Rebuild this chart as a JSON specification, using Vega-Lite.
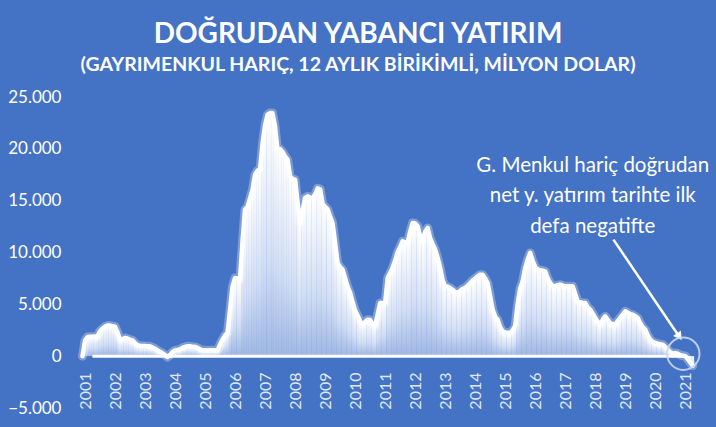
{
  "$schema": "https://vega.github.io/schema/vega-lite/v6.json",
  "width": 620,
  "height": 311,
  "autosize": {"type": "none"},
  "padding": {"left": 77, "top": 97, "right": 19, "bottom": 19},
  "background": "#4472C4",
  "config": {"view": {"stroke": null}},
  "title": {
    "text": "DOĞRUDAN YABANCI YATIRIM",
    "subtitle": "(GAYRIMENKUL HARIÇ, 12 AYLIK BİRİKİMLİ, MİLYON DOLAR)",
    "anchor": "middle",
    "dx": -29,
    "offset": 14,
    "font": "Lato",
    "fontSize": 28,
    "fontWeight": "bold",
    "color": "#ffffff",
    "subtitleFont": "Lato",
    "subtitleFontSize": 19.5,
    "subtitleFontWeight": "bold",
    "subtitleColor": "#ffffff",
    "subtitlePadding": 7
  },
  "datasets": {
    "fdi": [
      {"d":"2000-12","v":0},
      {"d":"2001-01","v":1500},{"d":"2001-02","v":1850},{"d":"2001-03","v":1880},{"d":"2001-04","v":1880},{"d":"2001-05","v":1900},{"d":"2001-06","v":1900},{"d":"2001-07","v":2400},{"d":"2001-08","v":2650},{"d":"2001-09","v":2850},{"d":"2001-10","v":2950},{"d":"2001-11","v":2950},{"d":"2001-12","v":2900},
      {"d":"2002-01","v":2850},{"d":"2002-02","v":2300},{"d":"2002-03","v":1600},{"d":"2002-04","v":1650},{"d":"2002-05","v":1750},{"d":"2002-06","v":1700},{"d":"2002-07","v":1600},{"d":"2002-08","v":1530},{"d":"2002-09","v":1250},{"d":"2002-10","v":1050},{"d":"2002-11","v":1000},{"d":"2002-12","v":980},
      {"d":"2003-01","v":970},{"d":"2003-02","v":960},{"d":"2003-03","v":950},{"d":"2003-04","v":850},{"d":"2003-05","v":720},{"d":"2003-06","v":560},{"d":"2003-07","v":420},{"d":"2003-08","v":280},{"d":"2003-09","v":120},{"d":"2003-10","v":-80},{"d":"2003-11","v":100},{"d":"2003-12","v":400},
      {"d":"2004-01","v":560},{"d":"2004-02","v":600},{"d":"2004-03","v":650},{"d":"2004-04","v":800},{"d":"2004-05","v":900},{"d":"2004-06","v":950},{"d":"2004-07","v":950},{"d":"2004-08","v":900},{"d":"2004-09","v":890},{"d":"2004-10","v":800},{"d":"2004-11","v":650},{"d":"2004-12","v":560},
      {"d":"2005-01","v":560},{"d":"2005-02","v":550},{"d":"2005-03","v":560},{"d":"2005-04","v":560},{"d":"2005-05","v":560},{"d":"2005-06","v":560},{"d":"2005-07","v":1100},{"d":"2005-08","v":1600},{"d":"2005-09","v":2000},{"d":"2005-10","v":2240},{"d":"2005-11","v":4500},{"d":"2005-12","v":6740},
      {"d":"2006-01","v":7540},{"d":"2006-02","v":7500},{"d":"2006-03","v":7380},{"d":"2006-04","v":11000},{"d":"2006-05","v":14140},{"d":"2006-06","v":14400},{"d":"2006-07","v":15200},{"d":"2006-08","v":16070},{"d":"2006-09","v":17500},{"d":"2006-10","v":17900},{"d":"2006-11","v":18000},{"d":"2006-12","v":20500},
      {"d":"2007-01","v":22300},{"d":"2007-02","v":23300},{"d":"2007-03","v":23450},{"d":"2007-04","v":23450},{"d":"2007-05","v":22180},{"d":"2007-06","v":19930},{"d":"2007-07","v":19990},{"d":"2007-08","v":19700},{"d":"2007-09","v":19280},{"d":"2007-10","v":18960},{"d":"2007-11","v":17350},{"d":"2007-12","v":17100},
      {"d":"2008-01","v":17030},{"d":"2008-02","v":14800},{"d":"2008-03","v":12850},{"d":"2008-04","v":14000},{"d":"2008-05","v":15270},{"d":"2008-06","v":15420},{"d":"2008-07","v":15300},{"d":"2008-08","v":15270},{"d":"2008-09","v":15600},{"d":"2008-10","v":16200},{"d":"2008-11","v":16100},{"d":"2008-12","v":14700},
      {"d":"2009-01","v":14400},{"d":"2009-02","v":14140},{"d":"2009-03","v":13500},{"d":"2009-04","v":12850},{"d":"2009-05","v":11000},{"d":"2009-06","v":9000},{"d":"2009-07","v":8600},{"d":"2009-08","v":8350},{"d":"2009-09","v":7500},{"d":"2009-10","v":6700},{"d":"2009-11","v":6100},{"d":"2009-12","v":5200},
      {"d":"2010-01","v":4400},{"d":"2010-02","v":3900},{"d":"2010-03","v":3400},{"d":"2010-04","v":3040},{"d":"2010-05","v":3300},{"d":"2010-06","v":3520},{"d":"2010-07","v":3500},{"d":"2010-08","v":3100},{"d":"2010-09","v":2940},{"d":"2010-10","v":4000},{"d":"2010-11","v":5130},{"d":"2010-12","v":5130},
      {"d":"2011-01","v":5130},{"d":"2011-02","v":7540},{"d":"2011-03","v":8000},{"d":"2011-04","v":8510},{"d":"2011-05","v":9200},{"d":"2011-06","v":10000},{"d":"2011-07","v":10500},{"d":"2011-08","v":11080},{"d":"2011-09","v":11000},{"d":"2011-10","v":10920},{"d":"2011-11","v":12000},{"d":"2011-12","v":12850},
      {"d":"2012-01","v":12800},{"d":"2012-02","v":12530},{"d":"2012-03","v":11600},{"d":"2012-04","v":11080},{"d":"2012-05","v":12000},{"d":"2012-06","v":12370},{"d":"2012-07","v":11400},{"d":"2012-08","v":10800},{"d":"2012-09","v":10280},{"d":"2012-10","v":9480},{"d":"2012-11","v":8500},{"d":"2012-12","v":7300},
      {"d":"2013-01","v":6740},{"d":"2013-02","v":6700},{"d":"2013-03","v":6580},{"d":"2013-04","v":6400},{"d":"2013-05","v":6200},{"d":"2013-06","v":6100},{"d":"2013-07","v":6300},{"d":"2013-08","v":6500},{"d":"2013-09","v":6580},{"d":"2013-10","v":6800},{"d":"2013-11","v":7060},{"d":"2013-12","v":7300},
      {"d":"2014-01","v":7500},{"d":"2014-02","v":7700},{"d":"2014-03","v":7860},{"d":"2014-04","v":7860},{"d":"2014-05","v":7500},{"d":"2014-06","v":7060},{"d":"2014-07","v":5800},{"d":"2014-08","v":4490},{"d":"2014-09","v":3800},{"d":"2014-10","v":3520},{"d":"2014-11","v":2800},{"d":"2014-12","v":2400},
      {"d":"2015-01","v":2300},{"d":"2015-02","v":2240},{"d":"2015-03","v":2240},{"d":"2015-04","v":2500},{"d":"2015-05","v":2880},{"d":"2015-06","v":5000},{"d":"2015-07","v":6500},{"d":"2015-08","v":7220},{"d":"2015-09","v":8500},{"d":"2015-10","v":9310},{"d":"2015-11","v":9960},{"d":"2015-12","v":9200},
      {"d":"2016-01","v":8600},{"d":"2016-02","v":8350},{"d":"2016-03","v":8300},{"d":"2016-04","v":8250},{"d":"2016-05","v":8180},{"d":"2016-06","v":7500},{"d":"2016-07","v":7060},{"d":"2016-08","v":6800},{"d":"2016-09","v":6740},{"d":"2016-10","v":6850},{"d":"2016-11","v":6900},{"d":"2016-12","v":6800},
      {"d":"2017-01","v":6740},{"d":"2017-02","v":6740},{"d":"2017-03","v":6740},{"d":"2017-04","v":6740},{"d":"2017-05","v":6000},{"d":"2017-06","v":5290},{"d":"2017-07","v":5200},{"d":"2017-08","v":5130},{"d":"2017-09","v":5130},{"d":"2017-10","v":4700},{"d":"2017-11","v":4490},{"d":"2017-12","v":4100},
      {"d":"2018-01","v":3690},{"d":"2018-02","v":3300},{"d":"2018-03","v":3040},{"d":"2018-04","v":3500},{"d":"2018-05","v":3840},{"d":"2018-06","v":3500},{"d":"2018-07","v":3200},{"d":"2018-08","v":3100},{"d":"2018-09","v":3040},{"d":"2018-10","v":3400},{"d":"2018-11","v":3690},{"d":"2018-12","v":4000},
      {"d":"2019-01","v":4330},{"d":"2019-02","v":4200},{"d":"2019-03","v":4050},{"d":"2019-04","v":4000},{"d":"2019-05","v":3850},{"d":"2019-06","v":3690},{"d":"2019-07","v":3200},{"d":"2019-08","v":2800},{"d":"2019-09","v":2560},{"d":"2019-10","v":2000},{"d":"2019-11","v":1590},{"d":"2019-12","v":1400},
      {"d":"2020-01","v":1270},{"d":"2020-02","v":1200},{"d":"2020-03","v":1150},{"d":"2020-04","v":1110},{"d":"2020-05","v":900},{"d":"2020-06","v":630},{"d":"2020-07","v":400},{"d":"2020-08","v":240},{"d":"2020-09","v":300},{"d":"2020-10","v":240},{"d":"2020-11","v":100},{"d":"2020-12","v":50},
      {"d":"2021-01","v":0},{"d":"2021-02","v":-300},{"d":"2021-03","v":-600},{"d":"2021-04","v":-920}
    ]
  },
  "layer": [
    {
      "data": {"name": "fdi"},
      "mark": {
        "type": "bar",
        "width": 2.8,
        "color": {
          "gradient": "linear",
          "x1": 0, "y1": 0, "x2": 0, "y2": 1,
          "stops": [
            {"offset": 0, "color": "#ffffff"},
            {"offset": 0.6, "color": "#d2def4"},
            {"offset": 1, "color": "#9fb7e4"}
          ]
        }
      },
      "encoding": {
        "x": {
          "field": "d",
          "type": "temporal",
          "scale": {
            "type": "utc",
            "domain": [
              {"year": 2000, "month": 11, "date": 25, "utc": true},
              {"year": 2021, "month": 3, "date": 23, "utc": true}
            ]
          },
          "axis": {
            "title": null,
            "format": "%Y",
            "tickCount": {"interval": "year", "step": 1},
            "labelAngle": 270,
            "labelAlign": "right",
            "labelBaseline": "middle",
            "labelOverlap": false,
            "labelFlush": false,
            "domain": false,
            "ticks": false,
            "grid": false,
            "offset": -40,
            "labelPadding": 4,
            "labelFont": "Lato",
            "labelFontSize": 16,
            "labelColor": "#dfe7f5"
          }
        },
        "y": {
          "field": "v",
          "type": "quantitative",
          "scale": {"domain": [-5000, 25000], "nice": false},
          "axis": {
            "title": null,
            "values": [-5000, 0, 5000, 10000, 15000, 20000, 25000],
            "grid": false,
            "domain": false,
            "ticks": false,
            "labelPadding": 16,
            "labelFont": "Lato",
            "labelFontSize": 17,
            "labelColor": "#ffffff",
            "labelExpr": "replace(format(datum.value, ','), ',', '.')"
          }
        }
      }
    },
    {
      "data": {"values": [{"a": "2001-04", "b": "2021-01"}]},
      "mark": {"type": "rule", "color": "#ffffff", "strokeWidth": 3},
      "encoding": {
        "x": {"field": "a", "type": "temporal"},
        "x2": {"field": "b"},
        "y": {"datum": 0}
      }
    },
    {
      "data": {"name": "fdi"},
      "mark": {"type": "line", "color": "#ffffff", "strokeWidth": 9, "opacity": 0.3, "strokeJoin": "round", "strokeCap": "round"},
      "encoding": {
        "x": {"field": "d", "type": "temporal"},
        "y": {"field": "v", "type": "quantitative"}
      }
    },
    {
      "data": {"name": "fdi"},
      "mark": {"type": "line", "color": "#ffffff", "strokeWidth": 4.5, "strokeJoin": "round", "strokeCap": "round"},
      "encoding": {
        "x": {"field": "d", "type": "temporal"},
        "y": {"field": "v", "type": "quantitative"}
      }
    },
    {
      "data": {"values": [{"d": "2017-12-01", "v": 18390, "t": "G. Menkul hariç doğrudan\nnet y. yatırım tarihte ilk\ndefa negatifte"}]},
      "mark": {"type": "text", "align": "center", "baseline": "middle", "font": "Lato", "fontSize": 20.5, "color": "#ffffff", "lineBreak": "\n", "lineHeight": 30.5},
      "encoding": {
        "x": {"field": "d", "type": "temporal"},
        "y": {"field": "v", "type": "quantitative"},
        "text": {"field": "t"}
      }
    },
    {
      "data": {"values": [{"d1": "2018-08-10", "v1": 11240, "d2": "2020-10-20", "v2": 1880}]},
      "mark": {"type": "rule", "color": "#ffffff", "strokeWidth": 2.5},
      "encoding": {
        "x": {"field": "d1", "type": "temporal"},
        "y": {"field": "v1", "type": "quantitative"},
        "x2": {"field": "d2"},
        "y2": {"field": "v2"}
      }
    },
    {
      "data": {"values": [{"d": "2020-10-20", "v": 1880}]},
      "mark": {"type": "point", "shape": "triangle-down", "angle": 325, "size": 90, "filled": true, "color": "#ffffff", "opacity": 1},
      "encoding": {
        "x": {"field": "d", "type": "temporal"},
        "y": {"field": "v", "type": "quantitative"}
      }
    },
    {
      "data": {"values": [{"d": "2020-12-07", "v": 240}]},
      "mark": {"type": "point", "shape": "circle", "size": 1050, "filled": false, "stroke": "#c9d7f1", "strokeWidth": 2, "opacity": 0.9},
      "encoding": {
        "x": {"field": "d", "type": "temporal"},
        "y": {"field": "v", "type": "quantitative"}
      }
    }
  ]
}
